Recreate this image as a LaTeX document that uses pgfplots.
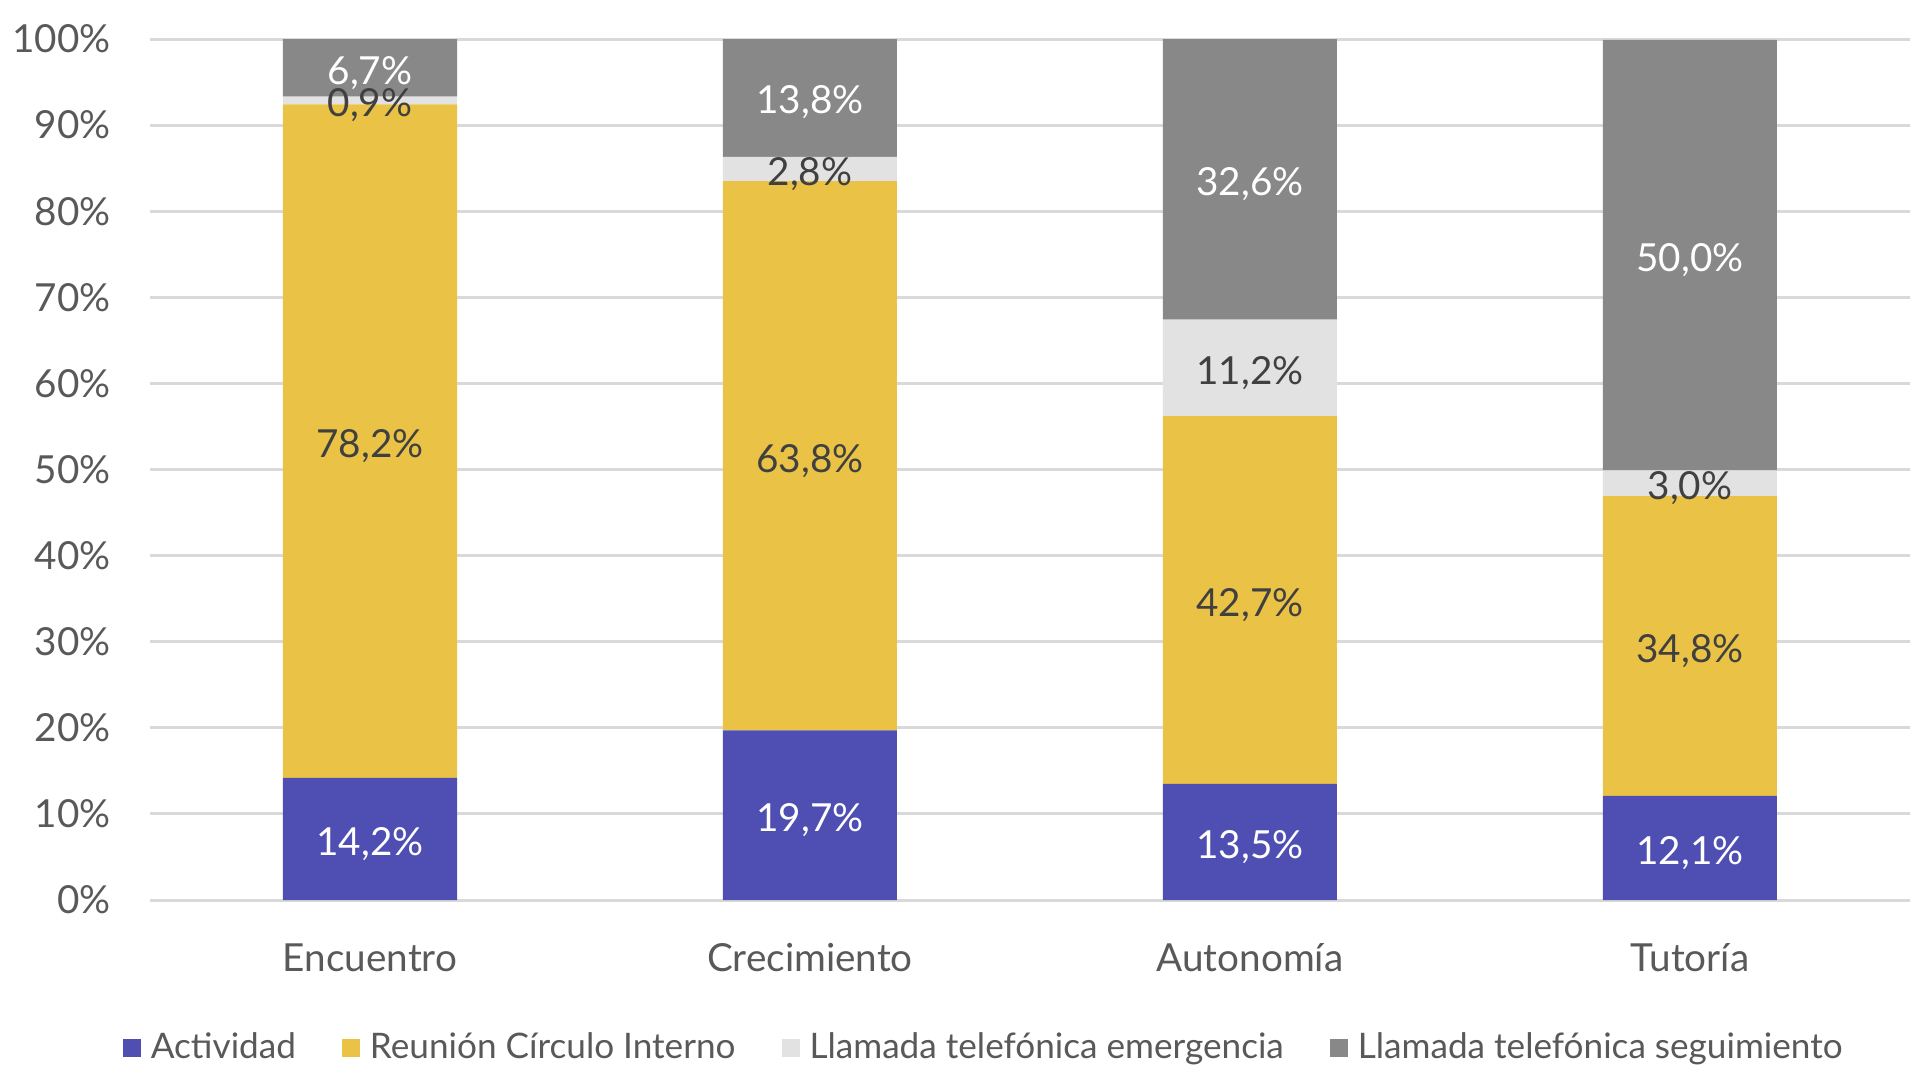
\documentclass[border=0pt]{standalone}
\usepackage{pgfplots}
\pgfplotsset{compat=1.18}
\usepackage{pgfplotstable}
\usepackage{fontspec}
\setmainfont{Lato}

\definecolor{cAct}{HTML}{4F4FB3}
\definecolor{cReu}{HTML}{EAC246}
\definecolor{cEme}{HTML}{E2E2E2}
\definecolor{cSeg}{HTML}{888888}
\definecolor{cGrid}{HTML}{D9D9D9}
\definecolor{cTxt}{HTML}{595959}
\definecolor{cDark}{HTML}{404040}

% share of each contact type per programme stage (%)
\pgfplotstableread{
x act reu eme seg
0 14.2 78.2 0.9 6.7
1 19.7 63.8 2.8 13.8
2 13.5 42.7 11.2 32.6
3 12.1 34.8 3.0 50.0
}\datos

\pgfplotsset{
  /pgf/number format/assume math mode=true,
  base/.style={
    scale only axis, width=176mm, height=86.1mm,
    xmin=-0.5, xmax=3.5, ymin=0, ymax=100,
    at={(0,0)}, anchor=south west,
  },
}

\begin{document}
\begin{tikzpicture}
\begin{axis}[base,
  ybar stacked, bar width=17.4mm,
  axis line style={draw=none},
  ymajorgrids, grid style={cGrid, line width=0.85pt},
  major tick length=0pt,
  ytick={0,10,...,100},
  yticklabel={\pgfmathprintnumber[fixed,precision=0]{\tick}\%},
  yticklabel style={xshift=-2.7mm},
  xtick={0,1,2,3},
  xticklabels={Encuentro,Crecimiento,Autonomía,Tutoría},
  xticklabel style={yshift=-3.1mm},
  tick label style={font=\fontsize{11}{13}\selectfont, text=cTxt},
  legend columns=4,
  legend style={at={(0.476,-0.172)}, anchor=center, draw=none,
    font=\fontsize{10}{12}\selectfont, text=cTxt,
    /tikz/every even column/.append style={column sep=3.6mm},
    nodes={inner xsep=1mm},
    inner sep=0pt},
  legend image code/.code={\fill[#1] (0mm,-0.9mm) rectangle (1.8mm,0.9mm);},
]
\addplot[fill=cAct, draw=none] table[x=x, y=act]{\datos};
\addplot[fill=cReu, draw=none] table[x=x, y=reu]{\datos};
\addplot[fill=cEme, draw=none] table[x=x, y=eme]{\datos};
\addplot[fill=cSeg, draw=none] table[x=x, y=seg]{\datos};
\legend{Actividad, Reunión Círculo Interno, Llamada telefónica emergencia, Llamada telefónica seguimiento}
\end{axis}

% value labels, centred in each segment
\begin{axis}[base, hide axis, clip=false,
  point meta=explicit,
  nodes near coords={\pgfmathprintnumber[fixed, fixed zerofill, precision=1, use comma]{\pgfplotspointmeta}\%},
  nodes near coords style={anchor=center, yshift=-0.5mm, font=\fontsize{11}{13}\selectfont},
]
\addplot[draw=none, mark=none, nodes near coords style={text=white}]
  table[x=x, y expr=\thisrow{act}/2, meta=act]{\datos};
\addplot[draw=none, mark=none, nodes near coords style={text=cDark}]
  table[x=x, y expr=\thisrow{act}+\thisrow{reu}/2, meta=reu]{\datos};
\addplot[draw=none, mark=none, nodes near coords style={text=cDark}]
  table[x=x, y expr=\thisrow{act}+\thisrow{reu}+\thisrow{eme}/2, meta=eme]{\datos};
\addplot[draw=none, mark=none, nodes near coords style={text=white}]
  table[x=x, y expr=\thisrow{act}+\thisrow{reu}+\thisrow{eme}+\thisrow{seg}/2, meta=seg]{\datos};
\end{axis}

\pgfresetboundingbox
\path (-15mm,-16.4mm) rectangle (176mm,90mm);
\end{tikzpicture}
\end{document}
